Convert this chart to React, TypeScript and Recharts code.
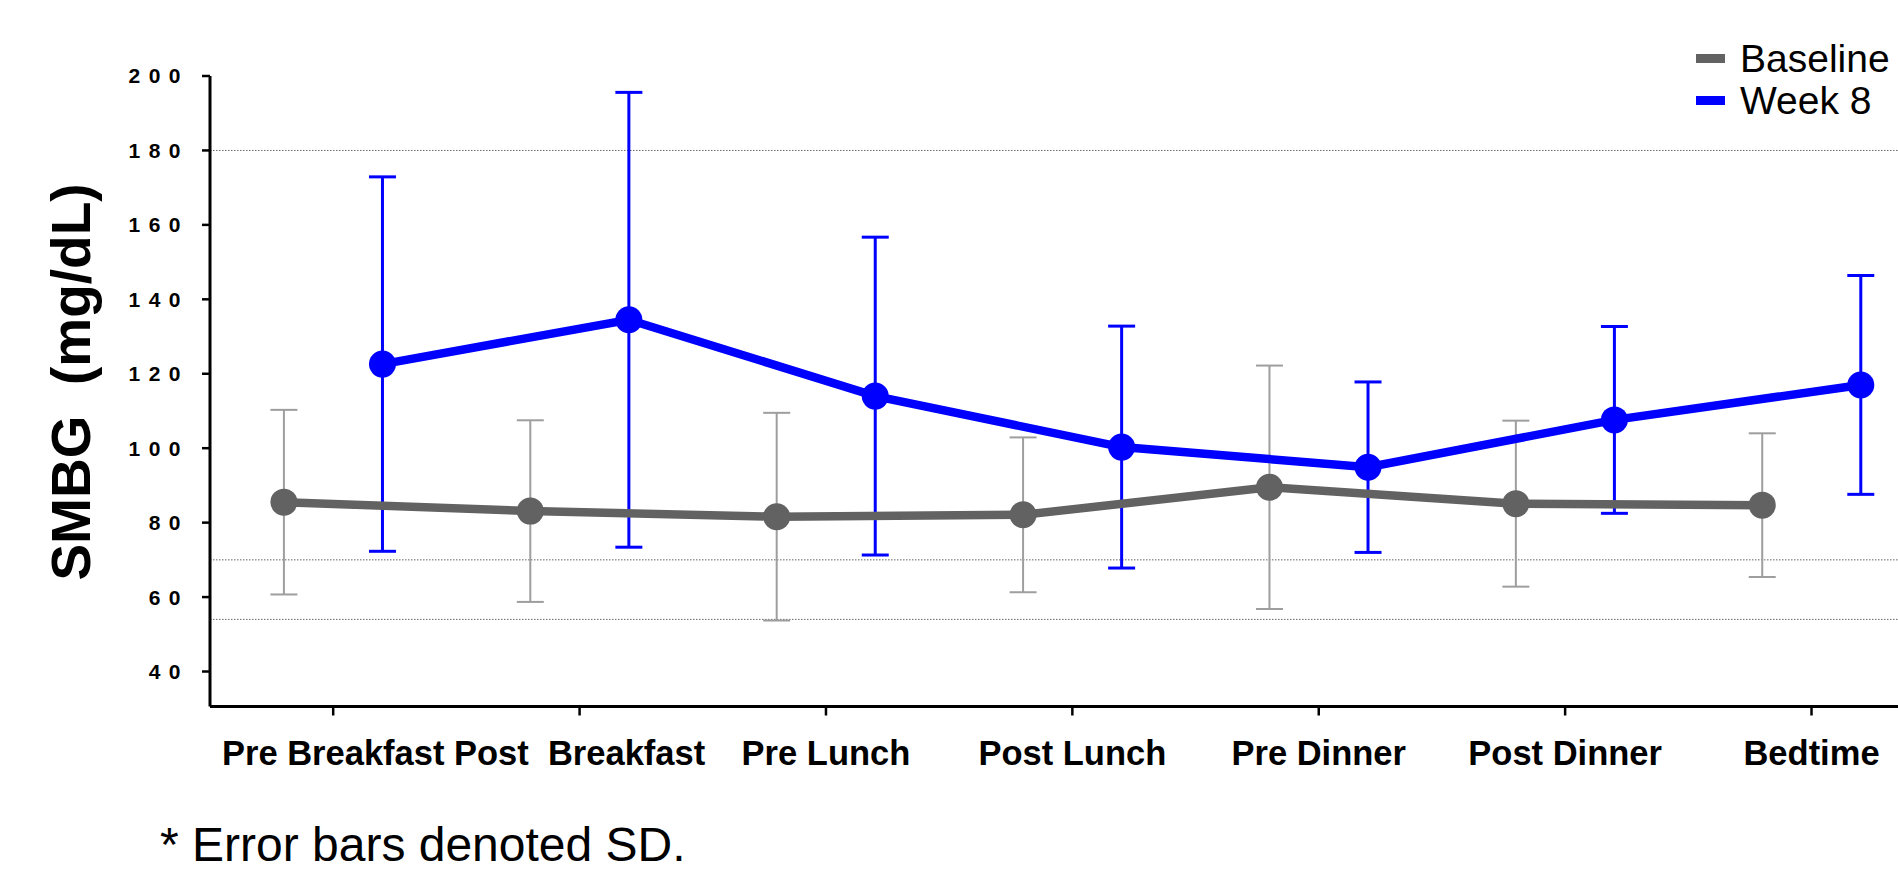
import React from 'react';
import { LineChart, Line, XAxis, YAxis, ErrorBar, ReferenceLine } from 'recharts';

// ---- data ----
const categories = ['Pre Breakfast', 'Post\u00a0 Breakfast', 'Pre Lunch', 'Post Lunch', 'Pre Dinner', 'Post Dinner', 'Bedtime'];
const baselineMean = [85.5, 83.1, 81.6, 82.1, 89.5, 85.1, 84.7];
const baselineSD = [24.8, 24.4, 27.9, 20.8, 32.7, 22.3, 19.3];
const week8Mean = [122.6, 134.5, 114.0, 100.3, 94.9, 107.6, 117.0];
const week8SD = [50.3, 61.1, 42.7, 32.5, 22.9, 25.1, 29.4];
const yTicks = [40, 60, 80, 100, 120, 140, 160, 180, 200];
const refLines = [180, 70, 54];
const seriesNames = ['Baseline', 'Week 8'];

// ---- styling / layout ----
const GRAY = '#626262';
const GRAY_ERR = '#9e9e9e';
const BLUE = '#0000ff';
const OFFSET = 0.2;
const FONT = '"Liberation Sans", Arial, Helvetica, sans-serif';

const xTickValues = categories.map((_, i) => i);
const baselineData = categories.map((c, i) => ({ x: i - OFFSET, name: c, mean: baselineMean[i], sd: baselineSD[i] }));
const week8Data = categories.map((c, i) => ({ x: i + OFFSET, name: c, mean: week8Mean[i], sd: week8SD[i] }));
const seriesColors = [GRAY, BLUE];

const XTick = (props: any) => {
  const { x, y, payload } = props;
  const idx = Math.round(payload.value);
  return (
    <text
      x={x}
      y={y + 49.5}
      textAnchor="middle"
      fontFamily={FONT}
      fontSize={34.5}
      fontWeight="bold"
      fill="#000"
      style={{ whiteSpace: 'pre' }}
    >
      {categories[idx]}
    </text>
  );
};

const YTick = (props: any) => {
  const { x, y, payload } = props;
  return (
    <text
      x={x - 13}
      y={y}
      dy="0.355em"
      textAnchor="end"
      fontFamily={FONT}
      fontSize={21}
      fontWeight="bold"
      letterSpacing={8.5}
      fill="#000"
    >
      {payload.value}
    </text>
  );
};

const YTitle = () => (
  <text
    x={90}
    y={382}
    transform="rotate(-90, 90, 382)"
    textAnchor="middle"
    fontFamily={FONT}
    fontSize={55}
    fontWeight="bold"
    fill="#000"
    style={{ whiteSpace: 'pre' }}
  >
    {'SMBG\u00a0 (mg/dL)'}
  </text>
);

export default function App() {
  return (
    <div style={{ position: 'absolute', left: 0, top: 0, width: 1898, height: 872, overflow: 'hidden', background: '#fff' }}>
      <LineChart width={1898} height={872} margin={{ top: 76, right: 0, bottom: 105.5, left: 0 }}>
        {refLines.map((v) => (
          <ReferenceLine key={v} y={v} stroke="#666" strokeWidth={1} strokeDasharray="1.5 1.5" />
        ))}
        <XAxis
          dataKey="x"
          type="number"
          domain={[-0.5, 6.351]}
          allowDataOverflow
          ticks={xTickValues}
          interval={0}
          height={60}
          tickSize={9}
          tickMargin={0}
          axisLine={{ stroke: '#000', strokeWidth: 3 }}
          tickLine={{ stroke: '#000', strokeWidth: 2.5 }}
          tick={<XTick />}
        />
        <YAxis
          type="number"
          domain={[30.6, 200]}
          allowDataOverflow
          ticks={yTicks}
          interval={0}
          width={210}
          tickSize={8}
          tickMargin={0}
          axisLine={{ stroke: '#000', strokeWidth: 3 }}
          tickLine={{ stroke: '#000', strokeWidth: 2.5 }}
          tick={<YTick />}
          label={<YTitle />}
        />
        {/* error bars first, underneath the lines */}
        <Line
          data={baselineData}
          dataKey="mean"
          stroke="none"
          dot={false}
          activeDot={false}
          legendType="none"
          isAnimationActive={false}
        >
          <ErrorBar dataKey="sd" direction="y" width={13.5} stroke={GRAY_ERR} strokeWidth={2} isAnimationActive={false} />
        </Line>
        <Line
          data={week8Data}
          dataKey="mean"
          stroke="none"
          dot={false}
          activeDot={false}
          legendType="none"
          isAnimationActive={false}
        >
          <ErrorBar dataKey="sd" direction="y" width={13.5} stroke={BLUE} strokeWidth={3} isAnimationActive={false} />
        </Line>
        <Line
          data={baselineData}
          dataKey="mean"
          name="Baseline"
          stroke={GRAY}
          strokeWidth={8.5}
          dot={{ r: 13.5, fill: GRAY, stroke: 'none' }}
          activeDot={false}
          isAnimationActive={false}
        />
        <Line
          data={week8Data}
          dataKey="mean"
          name="Week 8"
          stroke={BLUE}
          strokeWidth={8.5}
          dot={{ r: 13.5, fill: BLUE, stroke: 'none' }}
          activeDot={false}
          isAnimationActive={false}
        />
      </LineChart>
      <div style={{ position: 'absolute', left: 1696, top: 37.5, fontFamily: FONT }}>
        {seriesNames.map((n, i) => (
          <div key={n} style={{ display: 'flex', alignItems: 'center', height: 42 }}>
            <div style={{ width: 29, height: 9, background: seriesColors[i], marginRight: 15 }} />
            <span style={{ fontSize: 39, lineHeight: '39px', color: '#000', whiteSpace: 'nowrap' }}>{n}</span>
          </div>
        ))}
      </div>
      <div
        style={{
          position: 'absolute',
          left: 160,
          top: 821,
          fontFamily: FONT,
          fontSize: 48,
          lineHeight: '48px',
          color: '#000',
          whiteSpace: 'nowrap',
        }}
      >
        * Error bars denoted SD.
      </div>
    </div>
  );
}
